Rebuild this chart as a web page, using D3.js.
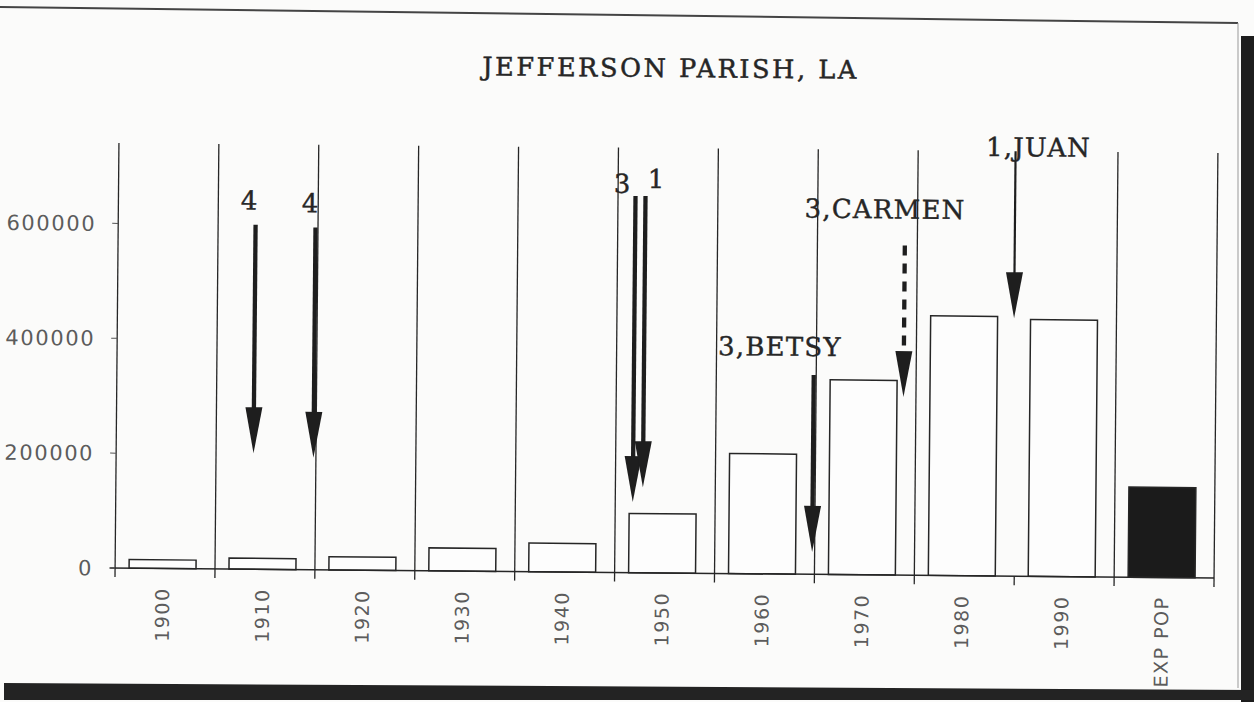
<!DOCTYPE html>
<html>
<head>
<meta charset="utf-8">
<script src="https://cdn.jsdelivr.net/npm/d3@7"></script>
<style>
  body { margin: 0; background: #fbfbfa; }
  svg { display: block; }
</style>
</head>
<body>
<div id="chart"></div>
<script>
// population per census
const categories = ["1900", "1910", "1920", "1930", "1940", "1950", "1960", "1970", "1980", "1990", "EXP POP"];
const population = [15000, 19000, 23000, 40000, 50000, 103000, 209000, 339000, 452000, 447000, 157000];
const yTicks = [0, 200000, 400000, 600000];

// hurricanes (year, category, name) and where their arrows start / end
const stormYears = [1909, 1915, 1947, 1948, 1965, 1974, 1985];
const stormCats = [4, 4, 3, 1, 3, 3, 1];
const stormNames = ["", "", "", "", "BETSY", "CARMEN", "JUAN"];
const arrowFrom = [600000, 596000, 656000, 656000, 347000, 574000, 740000];
const arrowTo = [202000, 195000, 123000, 149000, 39000, 310000, 449000];

const width = 1254, height = 702;
const margin = {top: 148, right: 38, bottom: 129, left: 117};
const baseY = height - margin.bottom;

const data = categories.map((c, i) => ({cat: c, value: population[i]}));
const storms = stormYears.map((yr, i) => ({
    year: yr, cat: stormCats[i], name: stormNames[i],
    from: arrowFrom[i], to: arrowTo[i]
}));

const x = d3.scaleBand()
    .domain(categories)
    .range([margin.left, width - margin.right])
    .padding(0);

const y = d3.scaleLinear()
    .domain([0, 740000])
    .range([baseY, margin.top]);

const bw = x.bandwidth();
const barX = c => x(c) + bw * 0.14;
const barW = bw * 0.67;
const barMid = c => barX(c) + barW / 2;

// year -> x, anchored on the decade bars
const yearX = d3.scaleLinear()
    .domain([1900, 1910])
    .range([barMid("1900"), barMid("1910")]);

const ink = "#262626";
const serif = "'DejaVu Serif', serif";
const sans = "'DejaVu Sans', sans-serif";

const svg = d3.select("#chart").append("svg")
    .attr("width", width)
    .attr("height", height);

// the scanned page sits a little crooked
const g = svg.append("g")
    .attr("transform", "rotate(0.52, 667, 360)");

g.append("text")
    .attr("x", 668)
    .attr("y", 77)
    .attr("text-anchor", "middle")
    .attr("font-family", serif)
    .attr("font-size", 25.5)
    .attr("letter-spacing", 2.6)
    .attr("fill", ink)
    .attr("stroke", ink)
    .attr("stroke-width", 0.5)
    .text("JEFFERSON PARISH, LA");

// separators between categories (none between 1980 and 1990 on the original)
const edges = categories.map(c => x(c)).concat([x.range()[1]]);
g.append("g")
    .selectAll("line")
    .data(edges.filter((d, i) => i !== 9))
    .join("line")
    .attr("x1", d => d).attr("x2", d => d)
    .attr("y1", margin.top).attr("y2", baseY)
    .attr("stroke", ink)
    .attr("stroke-width", 1.3);

// small ticks under the baseline
g.append("g")
    .selectAll("line")
    .data(edges)
    .join("line")
    .attr("x1", d => d).attr("x2", d => d)
    .attr("y1", baseY).attr("y2", baseY + 9)
    .attr("stroke", ink)
    .attr("stroke-width", 1.3);

// bars
g.append("g")
    .selectAll("rect")
    .data(data)
    .join("rect")
    .attr("x", d => barX(d.cat))
    .attr("y", d => y(d.value))
    .attr("width", barW)
    .attr("height", d => y(0) - y(d.value))
    .attr("fill", d => d.cat === "EXP POP" ? "#1b1b1b" : "#fdfdfd")
    .attr("stroke", ink)
    .attr("stroke-width", 1.5);

// baseline
g.append("line")
    .attr("x1", margin.left - 5).attr("x2", x.range()[1])
    .attr("y1", baseY).attr("y2", baseY)
    .attr("stroke", ink)
    .attr("stroke-width", 1.5);

// y axis
const yAxis = g.append("g");
yAxis.selectAll("line")
    .data(yTicks)
    .join("line")
    .attr("x1", margin.left - 6).attr("x2", margin.left)
    .attr("y1", d => y(d)).attr("y2", d => y(d))
    .attr("stroke", "#555");
yAxis.selectAll("text")
    .data(yTicks)
    .join("text")
    .attr("x", 95)
    .attr("y", d => y(d))
    .attr("dy", "0.36em")
    .attr("text-anchor", "end")
    .attr("font-family", sans)
    .attr("font-size", 21)
    .attr("letter-spacing", 1.6)
    .attr("fill", "#5c5c5c")
    .text(d => d);

// x labels, rotated
g.append("g")
    .selectAll("text")
    .data(categories)
    .join("text")
    .attr("transform", c => `translate(${barMid(c)},${baseY + 19}) rotate(-90)`)
    .attr("dy", "0.36em")
    .attr("text-anchor", "end")
    .attr("font-family", sans)
    .attr("font-size", 19)
    .attr("letter-spacing", 1.5)
    .attr("fill", "#5c5c5c")
    .text(c => c);

// storm arrows
const headLen = 46, headW = 17;
const arrows = g.append("g");
arrows.selectAll("line")
    .data(storms)
    .join("line")
    .attr("x1", d => yearX(d.year)).attr("x2", d => yearX(d.year))
    .attr("y1", d => y(d.from))
    .attr("y2", d => y(d.to) - headLen + 4)
    .attr("stroke", "#1e1e1e")
    .attr("stroke-width", d => d.name === "JUAN" ? 2.2 : 4.3)
    .attr("stroke-dasharray", d => d.name === "CARMEN" ? "10,8" : null);
arrows.selectAll("path")
    .data(storms)
    .join("path")
    .attr("d", d => {
        const cx = yearX(d.year), tip = y(d.to);
        return `M${cx - headW / 2},${tip - headLen} L${cx + headW / 2},${tip - headLen} L${cx},${tip} Z`;
    })
    .attr("fill", "#1e1e1e");

// label offsets from the arrow tail
const labelNudge = [[-6, -15], [-5, -15], [-13, -3], [11, -8], [-34, -19], [-20, -27], [23, 5]];
arrows.selectAll("text")
    .data(storms)
    .join("text")
    .attr("x", (d, i) => yearX(d.year) + labelNudge[i][0])
    .attr("y", (d, i) => y(d.from) + labelNudge[i][1])
    .attr("text-anchor", "middle")
    .attr("font-family", serif)
    .attr("font-size", 26)
    .attr("letter-spacing", 1.2)
    .attr("fill", ink)
    .attr("stroke", ink)
    .attr("stroke-width", 0.4)
    .text(d => d.name ? `${d.cat},${d.name}` : d.cat);

// edges of the scanned sheet
svg.append("line")
    .attr("x1", 0).attr("y1", 7).attr("x2", 1238).attr("y2", 23)
    .attr("stroke", "#444").attr("stroke-width", 2);
svg.append("line")
    .attr("x1", 1238).attr("y1", 23).attr("x2", 1238).attr("y2", 688)
    .attr("stroke", "#999").attr("stroke-width", 1);
svg.append("rect")
    .attr("x", 1241).attr("y", 36).attr("width", 13).attr("height", 666)
    .attr("fill", "#1d1d1d");
svg.append("path")
    .attr("d", "M4,683 L1254,690 L1254,700 L4,700 Z")
    .attr("fill", "#232323");
</script>
</body>
</html>
